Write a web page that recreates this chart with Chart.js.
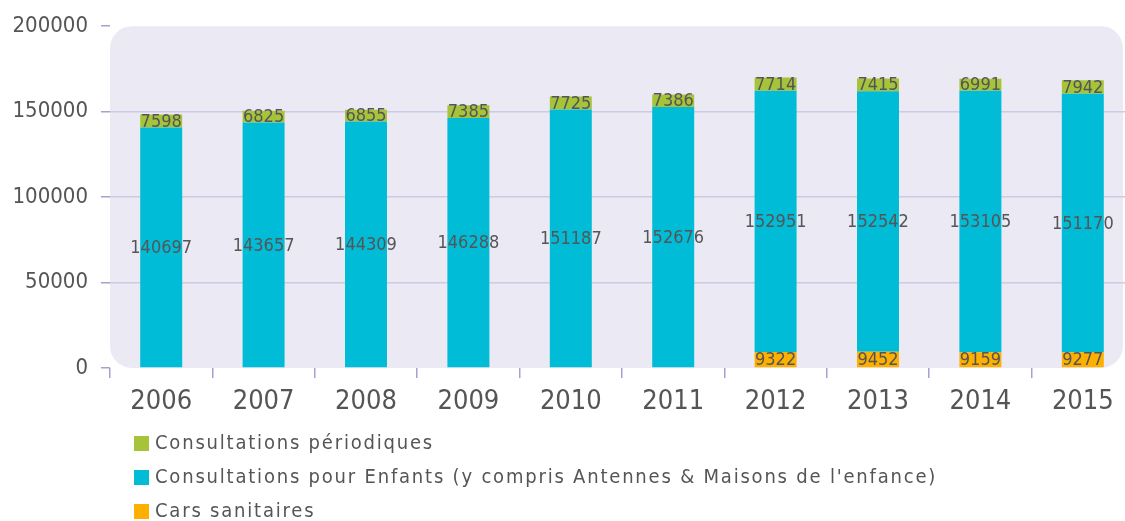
<!DOCTYPE html>
<html><head><meta charset="utf-8">
<script src="https://cdn.jsdelivr.net/npm/chart.js@4/dist/chart.umd.min.js"></script>
<style>
html,body{margin:0;padding:0;background:#fff;overflow:hidden;width:1125px;height:521px}
#wrap{position:relative;width:1136px;height:521px}
</style></head>
<body><div id="wrap"><canvas id="c"></canvas></div>
<script>
const years = ['2006','2007','2008','2009','2010','2011','2012','2013','2014','2015'];
const carsSanitaires = [0,0,0,0,0,0,9322,9452,9159,9277];
const consultEnfants = [140697,143657,144309,146288,151187,152676,152951,152542,153105,151170];
const consultPeriodiques = [7598,6825,6855,7385,7725,7386,7714,7415,6991,7942];
const yTicks = [0,50000,100000,150000,200000];
const labels = {
  cars: 'Cars sanitaires',
  enfants: "Consultations pour Enfants (y compris Antennes & Maisons de l'enfance)",
  periodiques: 'Consultations périodiques'
};
const FONT = "'DejaVu Sans Condensed','DejaVu Sans',sans-serif";
const TXT = '#555557';

const bgPlugin = {
  id:'bg',
  beforeDraw(chart){
    const a = chart.chartArea, ctx = chart.ctx;
    const right = Math.min(a.right, 1123);
    ctx.save();
    ctx.fillStyle = '#ebe9f3';
    ctx.beginPath();
    ctx.roundRect(a.left, a.top, right - a.left, a.bottom - a.top, 22);
    ctx.fill();
    ctx.restore();
  }
};
const valuePlugin = {
  id:'values',
  afterDatasetsDraw(chart){
    const ctx = chart.ctx;
    ctx.save();
    ctx.font = "18px " + FONT;
    ctx.fillStyle = TXT;
    ctx.textAlign = 'center';
    ctx.textBaseline = 'middle';
    chart.data.datasets.forEach((ds, i) => {
      const meta = chart.getDatasetMeta(i);
      meta.data.forEach((el, j) => {
        const v = ds.data[j];
        if (!v) return;
        ctx.fillText(String(v), el.x, (el.y + el.base) / 2 + 1);
      });
    });
    ctx.restore();
  }
};
const legendPlugin = {
  id:'vlegend',
  afterDraw(chart){
    const ctx = chart.ctx, a = chart.chartArea;
    const items = chart.data.datasets.slice().reverse();
    ctx.save();
    ctx.font = "20px " + FONT;
    if ('letterSpacing' in ctx) ctx.letterSpacing = '1.8px';
    ctx.textBaseline = 'middle';
    ctx.textAlign = 'left';
    items.forEach((ds, k) => {
      const y = a.bottom + 75 + k * 34;
      ctx.fillStyle = ds.backgroundColor;
      ctx.fillRect(134, y - 7, 15, 15);
      ctx.fillStyle = TXT;
      ctx.fillText(ds.label, 155, y + 1);
    });
    ctx.restore();
  }
};

new Chart(document.getElementById('c'), {
  type:'bar',
  data:{
    labels: years,
    datasets:[
      {label: labels.cars, data: carsSanitaires, backgroundColor:'#fdb000'},
      {label: labels.enfants, data: consultEnfants, backgroundColor:'#00bcd6'},
      {label: labels.periodiques, data: consultPeriodiques, backgroundColor:'#a6c43a'}
    ]
  },
  options:{
    responsive:true,
    maintainAspectRatio:false,
    animation:false,
    layout:{padding:{left:10, right:2, top:24, bottom:98}},
    datasets:{bar:{barPercentage:0.41, categoryPercentage:1}},
    plugins:{legend:{display:false}, tooltip:{enabled:false}},
    scales:{
      x:{
        stacked:true,
        border:{display:false},
        grid:{offset:true, drawOnChartArea:false, tickLength:10, tickColor:'#a99fd2', lineWidth:1.5},
        ticks:{font:{family:FONT, size:27}, color:TXT, padding:8},
        afterFit(s){ s.height = 55; }
      },
      y:{
        stacked:true,
        min:0, max:200000,
        afterBuildTicks(s){ s.ticks = yTicks.map(v => ({value:v})); },
        border:{display:false},
        grid:{
          color:(c) => (c.tick && (c.tick.value === 0 || c.tick.value === 200000)) ? 'rgba(0,0,0,0)' : '#cfc8e6',
          tickColor:'#a99fd2', tickLength:9, lineWidth:1.5
        },
        ticks:{font:{family:FONT, size:22}, color:TXT, padding:13, callback:(v) => String(v)},
        afterFit(s){ s.width = 100; }
      }
    }
  },
  plugins:[bgPlugin, valuePlugin, legendPlugin]
});
</script>
</body></html>
